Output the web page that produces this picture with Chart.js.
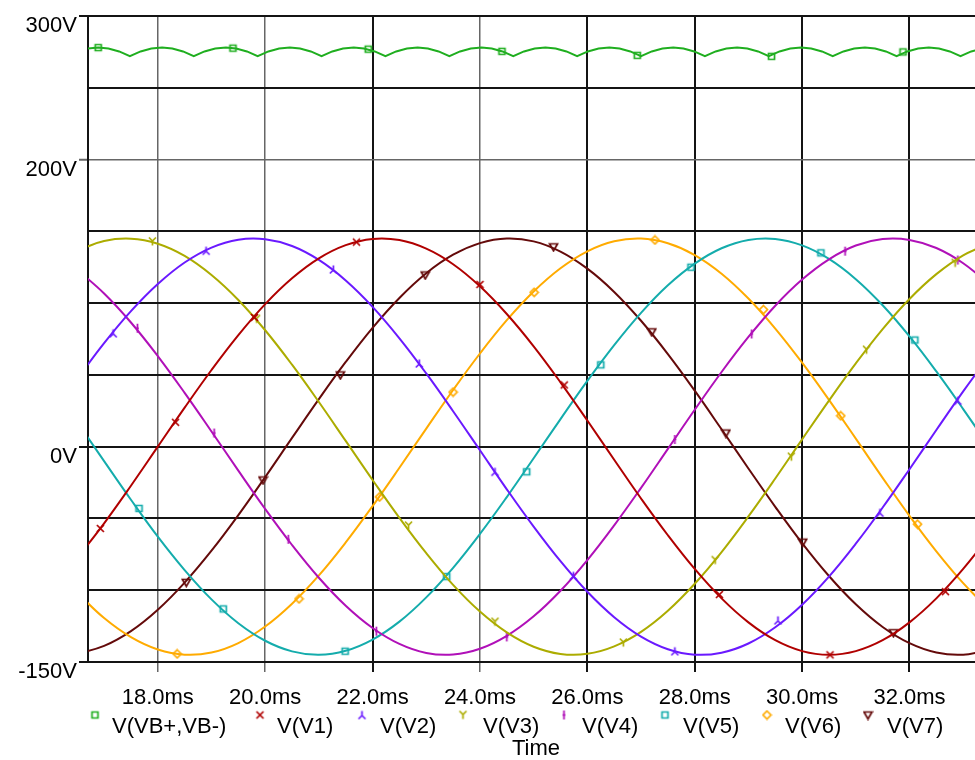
<!DOCTYPE html>
<html><head><meta charset="utf-8">
<script src="https://cdn.jsdelivr.net/npm/chart.js@4/dist/chart.umd.min.js"></script>
<style>html,body{margin:0;padding:0;background:#fff;overflow:hidden}canvas{display:block}</style>
</head><body>
<canvas id="c" width="975" height="760"></canvas>
<script>
// ---------- data ----------
const seriesNames = ['V(VB+,VB-)','V(V1)','V(V2)','V(V3)','V(V4)','V(V5)','V(V6)','V(V7)'];
const xTicks = [18,20,22,24,26,28,30,32];           // ms
const yTicks = [-150,-100,-50,0,50,100,150,200,250,300]; // V
const yLabelled = [300,200,0,-150];

const timeMs = [16.5,17.0,17.5,18.0,18.5,19.0,19.5,20.0,20.5,21.0,21.5,22.0,22.5,23.0,23.5,24.0,24.5,25.0,25.5,26.0,26.5,27.0,27.5,28.0,28.5,29.0,29.5,30.0,30.5,31.0,31.5,32.0,32.5,33.0,33.5];
const v1 = [-77.7,-53.4,-27.2,0,27.2,53.4,77.7,99.3,117.3,131.2,140.4,144.7,143.9,137.9,127.1,111.7,92.4,69.9,44.8,18.2,-9.1,-36.1,-61.7,-85.2,-105.7,-122.4,-134.8,-142.4,-145,-142.4,-134.8,-122.4,-105.7,-85.2,-61.7];
const v2 = [47.2,72.1,94.4,113.3,128.3,138.7,144.2,144.5,139.8,130.1,115.8,97.4,75.5,51.0,24.7,-2.5,-29.7,-55.7,-79.8,-101.1,-118.8,-132.3,-141.1,-144.9,-143.5,-137.1,-125.8,-110.1,-90.5,-67.6,-42.4,-15.7,11.6,38.5,64.0];
const v3 = [136.6,143.3,144.9,141.4,132.9,119.6,102.2,81.1,57.1,31.1,4.0,-23.2,-49.6,-74.2,-96.3,-114.9,-129.4,-139.4,-144.4,-144.3,-139.1,-129.0,-114.3,-95.5,-73.4,-48.6,-22.2,5.1,32.1,58.0,81.9,102.9,120.2,133.3,141.6];
const v4 = [123.2,106.7,86.5,63.1,37.5,10.6,-16.7,-43.4,-68.5,-91.3,-110.8,-126.3,-137.4,-143.7,-144.8,-140.8,-131.8,-118.2,-100.4,-79.0,-54.8,-28.7,-1.5,25.7,52.0,76.4,98.2,116.4,130.5,140.1,144.6,144.0,138.4,127.8,112.7];
const v5 = [17.2,-10.1,-37.0,-62.7,-86.0,-106.4,-123.0,-135.2,-142.6,-145.0,-142.2,-134.4,-121.9,-105.0,-84.4,-60.8,-35.1,-8.1,19.2,45.8,70.7,93.2,112.4,127.5,138.2,144.0,144.7,140.2,130.8,116.7,98.5,76.8,52.4,26.2,-1.0];
const v6 = [-101.8,-119.4,-132.7,-141.3,-144.9,-143.4,-136.8,-125.3,-109.4,-89.7,-66.7,-41.4,-14.7,12.6,39.5,64.9,88.1,108.1,124.3,136.1,143.1,145.0,141.7,133.5,120.5,103.2,82.3,58.5,32.6,5.6,-21.7,-48.2,-72.9,-95.1,-114.0];
const v7 = [-144.2,-138.8,-128.5,-113.6,-94.7,-72.5,-47.7,-21.2,6.1,33.1,59.0,82.8,103.6,120.8,133.7,141.8,145.0,143.0,135.9,124.0,107.8,87.7,64.5,39.0,12.1,-15.2,-41.9,-67.2,-90.1,-109.8,-125.6,-136.9,-143.4,-144.9,-141.2];

// rectified bus voltage V(VB+,VB-) (ripple)
const vbTime = [16.29,16.49,16.69,16.89,17.08,17.28,17.48,17.68,17.88,18.08,18.27,18.47,18.67,18.87,19.07,19.27,19.46,19.66,19.86,20.06,20.26,20.46,20.65,20.85,21.05,21.25,21.45,21.65,21.84,22.04,22.24,22.44,22.64,22.84,23.03,23.23,23.43,23.63,23.83,24.03,24.22,24.42,24.62,24.82,25.02,25.22,25.41,25.61,25.81,26.01,26.21,26.41,26.60,26.80,27.00,27.20,27.40,27.60,27.79,27.99,28.19,28.39,28.59,28.79,28.98,29.18,29.38,29.58,29.78,29.98,30.17,30.37,30.57,30.77,30.97,31.17,31.36,31.56,31.76,31.96,32.16,32.36,32.55,32.75,32.95,33.15,33.35];
const vbVolt = [272,275.3,277.3,278,277.3,275.3,272,275.3,277.3,278,277.3,275.3,272,275.3,277.3,278,277.3,275.3,272,275.3,277.3,278,277.3,275.3,272,275.3,277.3,278,277.3,275.3,272,275.3,277.3,278,277.3,275.3,272,275.3,277.3,278,277.3,275.3,272,275.3,277.3,278,277.3,275.3,272,275.3,277.3,278,277.3,275.3,272,275.3,277.3,278,277.3,275.3,272,275.3,277.3,278,277.3,275.3,272,275.3,277.3,278,277.3,275.3,272,275.3,277.3,278,277.3,275.3,272,275.3,277.3,278,277.3,275.3,272,275.3,277.3];

// trace markers (time ms, value V)
const mkVbT = [16.89,19.40,21.92,24.41,26.93,29.43,31.88];
const mkVbV = [278,277.6,276.9,275.4,272.6,271.9,275.0];
const mkV1T = [16.93,18.33,19.80,21.70,24.00,25.57,28.46,30.52,32.67];
const mkV1V = [-57,17,90,142.5,113,43,-103,-145,-101];
const mkV2T = [17.17,18.90,21.27,22.87,24.28,25.74,27.63,29.55,31.45,32.90];
const mkV2V = [79,136.5,123.5,58,-17.5,-90,-142.5,-121,-46,32];
const mkV3T = [17.90,19.84,22.67,24.28,26.67,28.38,29.80,31.20,32.85];
const mkV3V = [143,89,-55,-122,-136.5,-79,-7,67.5,128];
const mkV4T = [17.62,19.05,20.43,22.07,24.50,27.63,29.06,30.80,32.90];
const mkV4V = [82.5,9.5,-64.5,-128.5,-132.5,5,78.5,136.2,130];
const mkV5T = [17.65,19.22,21.49,23.38,24.87,26.25,27.93,30.35,32.10];
const mkV5V = [-43,-113,-142.5,-90.5,-17.5,57,125,135,74.3];
const mkV6T = [18.36,20.63,22.13,23.50,25.01,27.26,29.28,30.72,32.15];
const mkV6V = [-144.3,-106,-35,38,107.5,144,95.5,21.5,-54];
const mkV7T = [18.53,19.96,21.40,22.98,25.37,27.20,28.58,30.01,31.70];
const mkV7V = [-94.5,-23.2,50,119.6,139.2,80,9.5,-66.5,-129.6];

// ---------- styling ----------
const FONT = '"Liberation Sans", Arial, Helvetica, sans-serif';
const BLACK = '#141414', GRAY = '#666666';
const xGray = [18,20,24], yGray = [200];
const colors = ['#1fae1f','#b00000','#6a19ff','#acac00','#b010b8','#14acac','#ffab00','#640a0a'];
const kinds  = ['square','x','upY','Y','bar','square','diamond','tri'];

function makeMarker(kind, color){
  const c = document.createElement('canvas'); c.width = 11; c.height = 11;
  const g = c.getContext('2d'); g.strokeStyle = color; g.fillStyle = color; g.lineWidth = 1.7; g.lineCap = 'butt';
  g.beginPath();
  if (kind==='square'){ g.rect(2.5,2.5,6,6); }
  else if (kind==='x'){ g.moveTo(2,2); g.lineTo(9,9); g.moveTo(9,2); g.lineTo(2,9); }
  else if (kind==='upY'){ g.moveTo(5.5,1.5); g.lineTo(5.5,6); g.lineTo(2,9.5); g.moveTo(5.5,6); g.lineTo(9,9.5); }
  else if (kind==='Y'){ g.moveTo(2,1.5); g.lineTo(5.5,5); g.lineTo(9,1.5); g.moveTo(5.5,5); g.lineTo(5.5,9.5); }
  else if (kind==='bar'){ g.moveTo(5.5,1); g.lineTo(5.5,10); g.moveTo(4,5.5); g.lineTo(7,5.5); }
  else if (kind==='diamond'){ g.moveTo(5.5,1.5); g.lineTo(9.5,5.5); g.lineTo(5.5,9.5); g.lineTo(1.5,5.5); g.closePath(); }
  else if (kind==='tri'){ g.moveTo(1.5,2.5); g.lineTo(9.5,2.5); g.lineTo(5.5,9.5); g.closePath(); }
  g.stroke();
  return c;
}
const markers = kinds.map((k,i)=>makeMarker(k, colors[i]));

const zip = (xs, ys) => xs.map((x,i)=>({x, y: ys[i]}));
const lineSeries = [zip(vbTime,vbVolt), zip(timeMs,v1), zip(timeMs,v2), zip(timeMs,v3), zip(timeMs,v4), zip(timeMs,v5), zip(timeMs,v6), zip(timeMs,v7)];
const markSeries = [zip(mkVbT,mkVbV), zip(mkV1T,mkV1V), zip(mkV2T,mkV2V), zip(mkV3T,mkV3V), zip(mkV4T,mkV4V), zip(mkV5T,mkV5V), zip(mkV6T,mkV6V), zip(mkV7T,mkV7V)];

const datasets = [];
seriesNames.forEach((name,i)=>{
  datasets.push({label:name, data:lineSeries[i], borderColor:colors[i], backgroundColor:colors[i],
    borderWidth:2, pointRadius:0, tension: i===0 ? 0 : 0.4, fill:false});
  datasets.push({label:name+' markers', data:markSeries[i], showLine:false, borderColor:colors[i],
    backgroundColor:colors[i], pointStyle:markers[i], pointRadius:4, pointHoverRadius:4});
});

const legendPlugin = {
  id:'pspiceLegend',
  afterDraw(chart){
    const g = chart.ctx;
    const mx = [95,260,362,463,564,665,767,868];
    const tx = [112,277,380,483,582,683,785,887];
    g.save();
    g.font = '22px ' + FONT; g.fillStyle = '#000'; g.textBaseline = 'alphabetic'; g.textAlign = 'left';
    seriesNames.forEach((n,i)=>{
      g.drawImage(markers[i], mx[i]-5.5, 715-5.5);
      g.fillText(n, tx[i], 733);
    });
    g.textAlign = 'center';
    g.fillText('Time', 536, 755);
    g.restore();
  }
};

const isGray = (arr, c) => c.tick && arr.includes(c.tick.value);

new Chart(document.getElementById('c').getContext('2d'), {
  type:'line',
  data:{datasets},
  options:{
    responsive:false, animation:false, devicePixelRatio:1,
    layout:{autoPadding:false, padding:{top:16,left:0,right:0,bottom:0}},
    plugins:{legend:{display:false}, tooltip:{enabled:false}},
    scales:{
      x:{type:'linear', min:16.7, max:33.22,
        afterBuildTicks: s => { s.ticks = xTicks.map(v=>({value:v})); },
        afterFit: s => { s.height = 98; s.paddingLeft = 0; s.paddingRight = 0; },
        grid:{ color: c => isGray(xGray,c) ? GRAY : BLACK, lineWidth: c => isGray(xGray,c) ? 1.5 : 2,
               tickLength:10, tickColor: c => isGray(xGray,c) ? GRAY : BLACK, tickWidth: c => isGray(xGray,c) ? 1.5 : 2 },
        border:{display:true, color:BLACK, width:2},
        ticks:{ padding:13, font:{family:FONT, size:22}, color:'#000', maxRotation:0, minRotation:0, autoSkip:false,
                callback: v => Number(v).toFixed(1) + 'ms' }
      },
      y:{min:-150, max:300,
        afterBuildTicks: s => { s.ticks = yTicks.map(v=>({value:v})); },
        afterFit: s => { s.width = 88; s.paddingTop = 0; s.paddingBottom = 0; },
        grid:{ color: c => isGray(yGray,c) ? GRAY : BLACK, lineWidth: c => isGray(yGray,c) ? 1.5 : 2,
               tickLength:9, tickColor: c => (c.tick && yLabelled.includes(c.tick.value)) ? (isGray(yGray,c) ? GRAY : BLACK) : 'rgba(0,0,0,0)',
               tickWidth: 2 },
        border:{display:true, color:BLACK, width:2},
        ticks:{ padding:2, font:{family:FONT, size:22}, color:'#000', autoSkip:false,
                labelOffset: c => (c.tick && c.tick.value === -150) ? 16 : 10,
                callback: v => yLabelled.includes(v) ? v + 'V' : '' }
      }
    }
  },
  plugins:[legendPlugin]
});
</script>
</body></html>
